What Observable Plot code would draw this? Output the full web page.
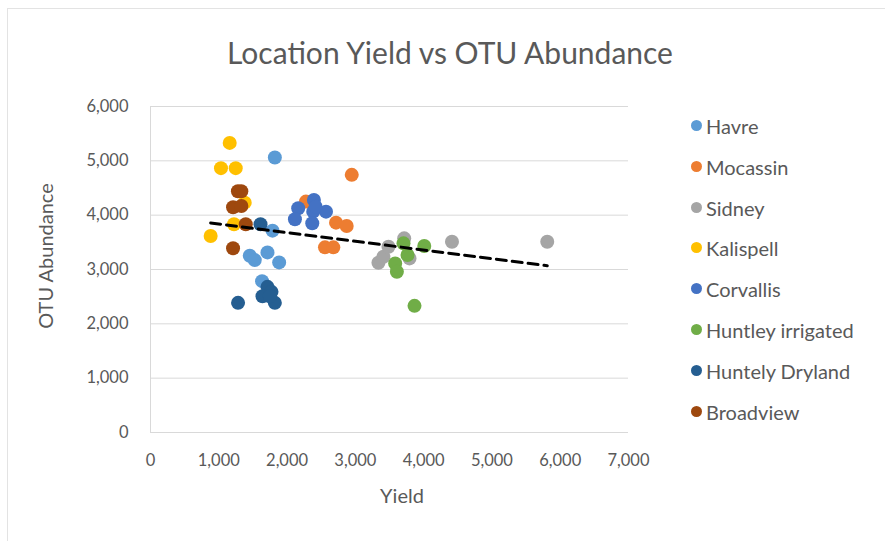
<!DOCTYPE html>
<html>
<head>
<meta charset="utf-8">
<script src="https://cdn.jsdelivr.net/npm/d3@7"></script>
<script src="https://cdn.jsdelivr.net/npm/@observablehq/plot@0.6"></script>
<style>
  html, body { margin: 0; padding: 0; background: #fff; }
  #wrap { position: relative; width: 885px; height: 541px; overflow: hidden; font-family: Lato, "Open Sans", sans-serif; color: #595959; }
  #frame { position: absolute; left: 7px; top: 8px; width: 900px; height: 560px; border-left: 1.5px solid #e3e3e3; border-top: 1.5px solid #e3e3e3; }
  #title { position: absolute; left: 450px; top: 52px; transform: translate(-50%, -50%); font-size: 30px; white-space: nowrap; }
  #ytitle { position: absolute; left: 45px; top: 256px; transform: translate(-50%, -50%) rotate(-90deg); font-size: 20px; white-space: nowrap; }
  #xtitle { position: absolute; left: 402px; top: 495px; transform: translate(-50%, -50%); font-size: 20px; }
  #legend { position: absolute; left: 691px; top: 114px; }
  .item { height: 40.8px; display: flex; align-items: flex-start; font-size: 20px; line-height: 24px; }
  .sw { width: 11px; height: 11px; border-radius: 50%; margin-right: 4px; margin-top: 6px; flex: none; }
  svg { position: absolute; left: 0; top: 0; }
</style>
</head>
<body>
<div id="wrap">
  <div id="frame"></div>
  <div id="title">Location Yield vs OTU Abundance</div>
  <div id="ytitle">OTU Abundance</div>
  <div id="xtitle">Yield</div>
  <div id="legend"></div>
</div>
<script>
const series = ["Havre", "Mocassin", "Sidney", "Kalispell", "Corvallis", "Huntley irrigated", "Huntely Dryland", "Broadview"];
const colors = ["#5B9BD5", "#ED7D31", "#A5A5A5", "#FFC000", "#4472C4", "#70AD47", "#255E91", "#9E480E"];

const havreX = [1821, 1787, 1454, 1527, 1713, 1884, 1634];
const havreY = [5060, 3715, 3253, 3173, 3315, 3131, 2786];
const mocassinX = [2947, 2276, 2717, 2873, 2555, 2677];
const mocassinY = [4742, 4250, 3862, 3800, 3408, 3408];
const sidneyX = [3338, 3411, 3485, 3715, 3793, 4415, 5810];
const sidneyY = [3124, 3234, 3419, 3573, 3204, 3511, 3511];
const kalispellX = [1160, 1032, 1248, 1380, 1223, 881];
const kalispellY = [5330, 4865, 4865, 4230, 3832, 3616];
const corvallisX = [2163, 2115, 2393, 2383, 2570, 2369, 2418];
const corvallisY = [4127, 3924, 4280, 4065, 4065, 3850, 4157];
const huntleyIrrX = [3705, 3764, 4009, 3583, 3608, 3866];
const huntleyIrrY = [3481, 3266, 3432, 3112, 2958, 2331];
const huntelyDryX = [1611, 1282, 1713, 1640, 1772, 1821, 1747];
const huntelyDryY = [3832, 2386, 2681, 2509, 2589, 2386, 2509];
const broadviewX = [1280, 1330, 1209, 1331, 1395, 1209];
const broadviewY = [4440, 4440, 4145, 4170, 3832, 3390];

const xTicks = [0, 1000, 2000, 3000, 4000, 5000, 6000, 7000];
const yTicks = [0, 1000, 2000, 3000, 4000, 5000, 6000];

const seriesX = [havreX, mocassinX, sidneyX, kalispellX, corvallisX, huntleyIrrX, huntelyDryX, broadviewX];
const seriesY = [havreY, mocassinY, sidneyY, kalispellY, corvallisY, huntleyIrrY, huntelyDryY, broadviewY];

const rows = [];
series.forEach((s, i) => {
  seriesX[i].forEach((x, j) => rows.push({series: s, x, y: seriesY[i][j]}));
});

const fmt = d3.format(",");

const chart = Plot.plot({
  width: 885,
  height: 541,
  marginLeft: 150,
  marginRight: 257,
  marginTop: 106,
  marginBottom: 109,
  style: {fontFamily: "Lato, 'Open Sans', sans-serif", fontSize: "16.5px", color: "#595959", background: "transparent"},
  x: {domain: [0, 7000]},
  y: {domain: [0, 6000]},
  color: {domain: series, range: colors},
  marks: [
    Plot.gridY(yTicks, {stroke: "#d9d9d9", strokeOpacity: 1, strokeWidth: 1}),
    Plot.ruleX([0], {stroke: "#d9d9d9", strokeWidth: 1}),
    Plot.axisX({ticks: xTicks, tickFormat: fmt, tickSize: 0, tickPadding: 22, label: null, fill: "#595959"}),
    Plot.axisY({ticks: yTicks, tickFormat: fmt, tickSize: 0, tickPadding: 22, label: null, fill: "#595959"}),
    Plot.dot(rows, {x: "x", y: "y", fill: "series", r: 7, stroke: "none"}),
    Plot.linearRegressionY(rows, {x: "x", y: "y", stroke: "#000", strokeWidth: 3, strokeDasharray: "10,6", ci: 0})
  ]
});
document.getElementById("wrap").appendChild(chart);

const legend = document.getElementById("legend");
series.forEach((s, i) => {
  const item = document.createElement("div");
  item.className = "item";
  const sw = document.createElement("div");
  sw.className = "sw";
  sw.style.background = colors[i];
  const t = document.createElement("span");
  t.textContent = s;
  item.appendChild(sw);
  item.appendChild(t);
  legend.appendChild(item);
});
</script>
</body>
</html>
